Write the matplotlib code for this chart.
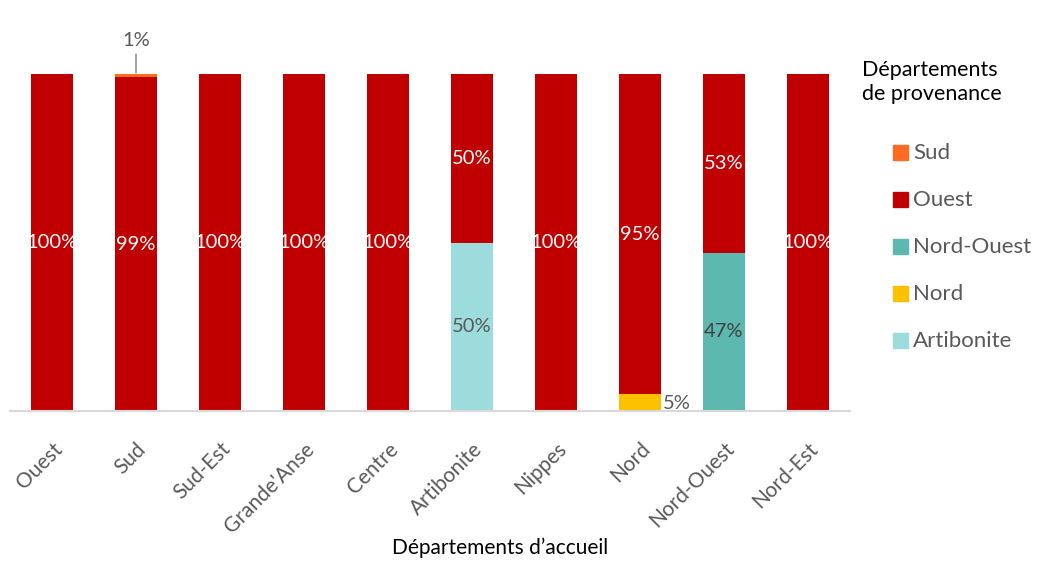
import matplotlib
matplotlib.use("Agg")
import matplotlib.pyplot as plt
import numpy as np
from matplotlib.patches import Rectangle

plt.rcParams["font.family"] = ["Lato", "DejaVu Sans"]

# ── data ─────────────────────────────────────────────────────────────────────
accueil = ["Ouest", "Sud", "Sud-Est", "Grande'Anse", "Centre",
           "Artibonite", "Nippes", "Nord", "Nord-Ouest", "Nord-Est"]

# stacking order, bottom to top
provenance = ["Artibonite", "Nord", "Nord-Ouest", "Ouest", "Sud"]
artibonite = [0, 0, 0, 0, 0, 50, 0, 0, 0, 0]
nord       = [0, 0, 0, 0, 0, 0, 0, 5, 0, 0]
nord_ouest = [0, 0, 0, 0, 0, 0, 0, 0, 47, 0]
ouest      = [100, 99, 100, 100, 100, 50, 100, 95, 53, 100]
sud        = [0, 1, 0, 0, 0, 0, 0, 0, 0, 0]
series = [artibonite, nord, nord_ouest, ouest, sud]

colors = {"Artibonite": "#9CDCDC", "Nord": "#FFC000", "Nord-Ouest": "#5DB8B0",
          "Ouest": "#C00000", "Sud": "#FF6A21"}
label_colors = {"Artibonite": "#595959", "Nord-Ouest": "#404040",
                "Ouest": "white"}

GRAY = "#595959"

# ── figure ───────────────────────────────────────────────────────────────────
W, H = 1038, 570
fig = plt.figure(figsize=(W / 100, H / 100), dpi=100)
ax = fig.add_axes([10 / W, 1 - 411 / H, 840 / W, 337 / H])

x = np.arange(len(accueil))
bottom = np.zeros(len(accueil))
for name, vals in zip(provenance, series):
    vals = np.array(vals, dtype=float)
    ax.bar(x, vals / 100, width=0.5, bottom=bottom / 100,
           color=colors[name], edgecolor="none", label=name)
    for i, v in enumerate(vals):
        if v >= 10:
            ax.text(x[i], (bottom[i] + v / 2) / 100, f"{int(v)}%",
                    ha="center", va="center", fontsize=14.5,
                    color=label_colors.get(name, "white"))
    bottom += vals

# small segments: labels outside the bars
i_sud = accueil.index("Sud")
ax.annotate(f"{sud[i_sud]}%", xy=(x[i_sud], 1.0), xytext=(x[i_sud], 1.10),
            ha="center", va="center", fontsize=14.5, color=GRAY,
            arrowprops=dict(arrowstyle="-", color="#A6A6A6", lw=1.5,
                            shrinkA=2, shrinkB=1),
            annotation_clip=False)
i_nord = accueil.index("Nord")
ax.text(x[i_nord] + 0.27, nord[i_nord] / 200 - 0.003, f"{nord[i_nord]}%",
        ha="left", va="center", fontsize=14.5, color=GRAY, clip_on=False)

ax.set_xlim(-0.5, len(accueil) - 0.5)
ax.set_ylim(0, 1)
for s in ["top", "right", "left"]:
    ax.spines[s].set_visible(False)
ax.spines["bottom"].set_color("#D9D9D9")
ax.spines["bottom"].set_linewidth(1.5)
ax.set_yticks([])
ax.set_xticks(x)
ax.set_xticklabels(accueil, rotation=45, ha="right", va="top",
                   rotation_mode="anchor", fontsize=15, color=GRAY)
ax.tick_params(axis="x", length=0, pad=20)

fig.text(500 / W, 1 - 548 / H, "Départements d’accueil", ha="center",
         va="center", fontsize=15, color="black")

# ── legend ───────────────────────────────────────────────────────────────────
fig.text(862 / W, 1 - 60 / H, "Départements\nde provenance", ha="left",
         va="top", fontsize=15.5, color="black", linespacing=1.25)
for k, name in enumerate(reversed(provenance)):
    yc = 153 + 47 * k
    fig.patches.append(Rectangle((893 / W, 1 - (yc + 7) / H), 15 / W, 15 / H,
                                 transform=fig.transFigure,
                                 color=colors[name]))
    fig.text(913 / W, 1 - yc / H, name, ha="left", va="center",
             fontsize=16, color=GRAY)

fig.savefig("out.png", dpi=100)
